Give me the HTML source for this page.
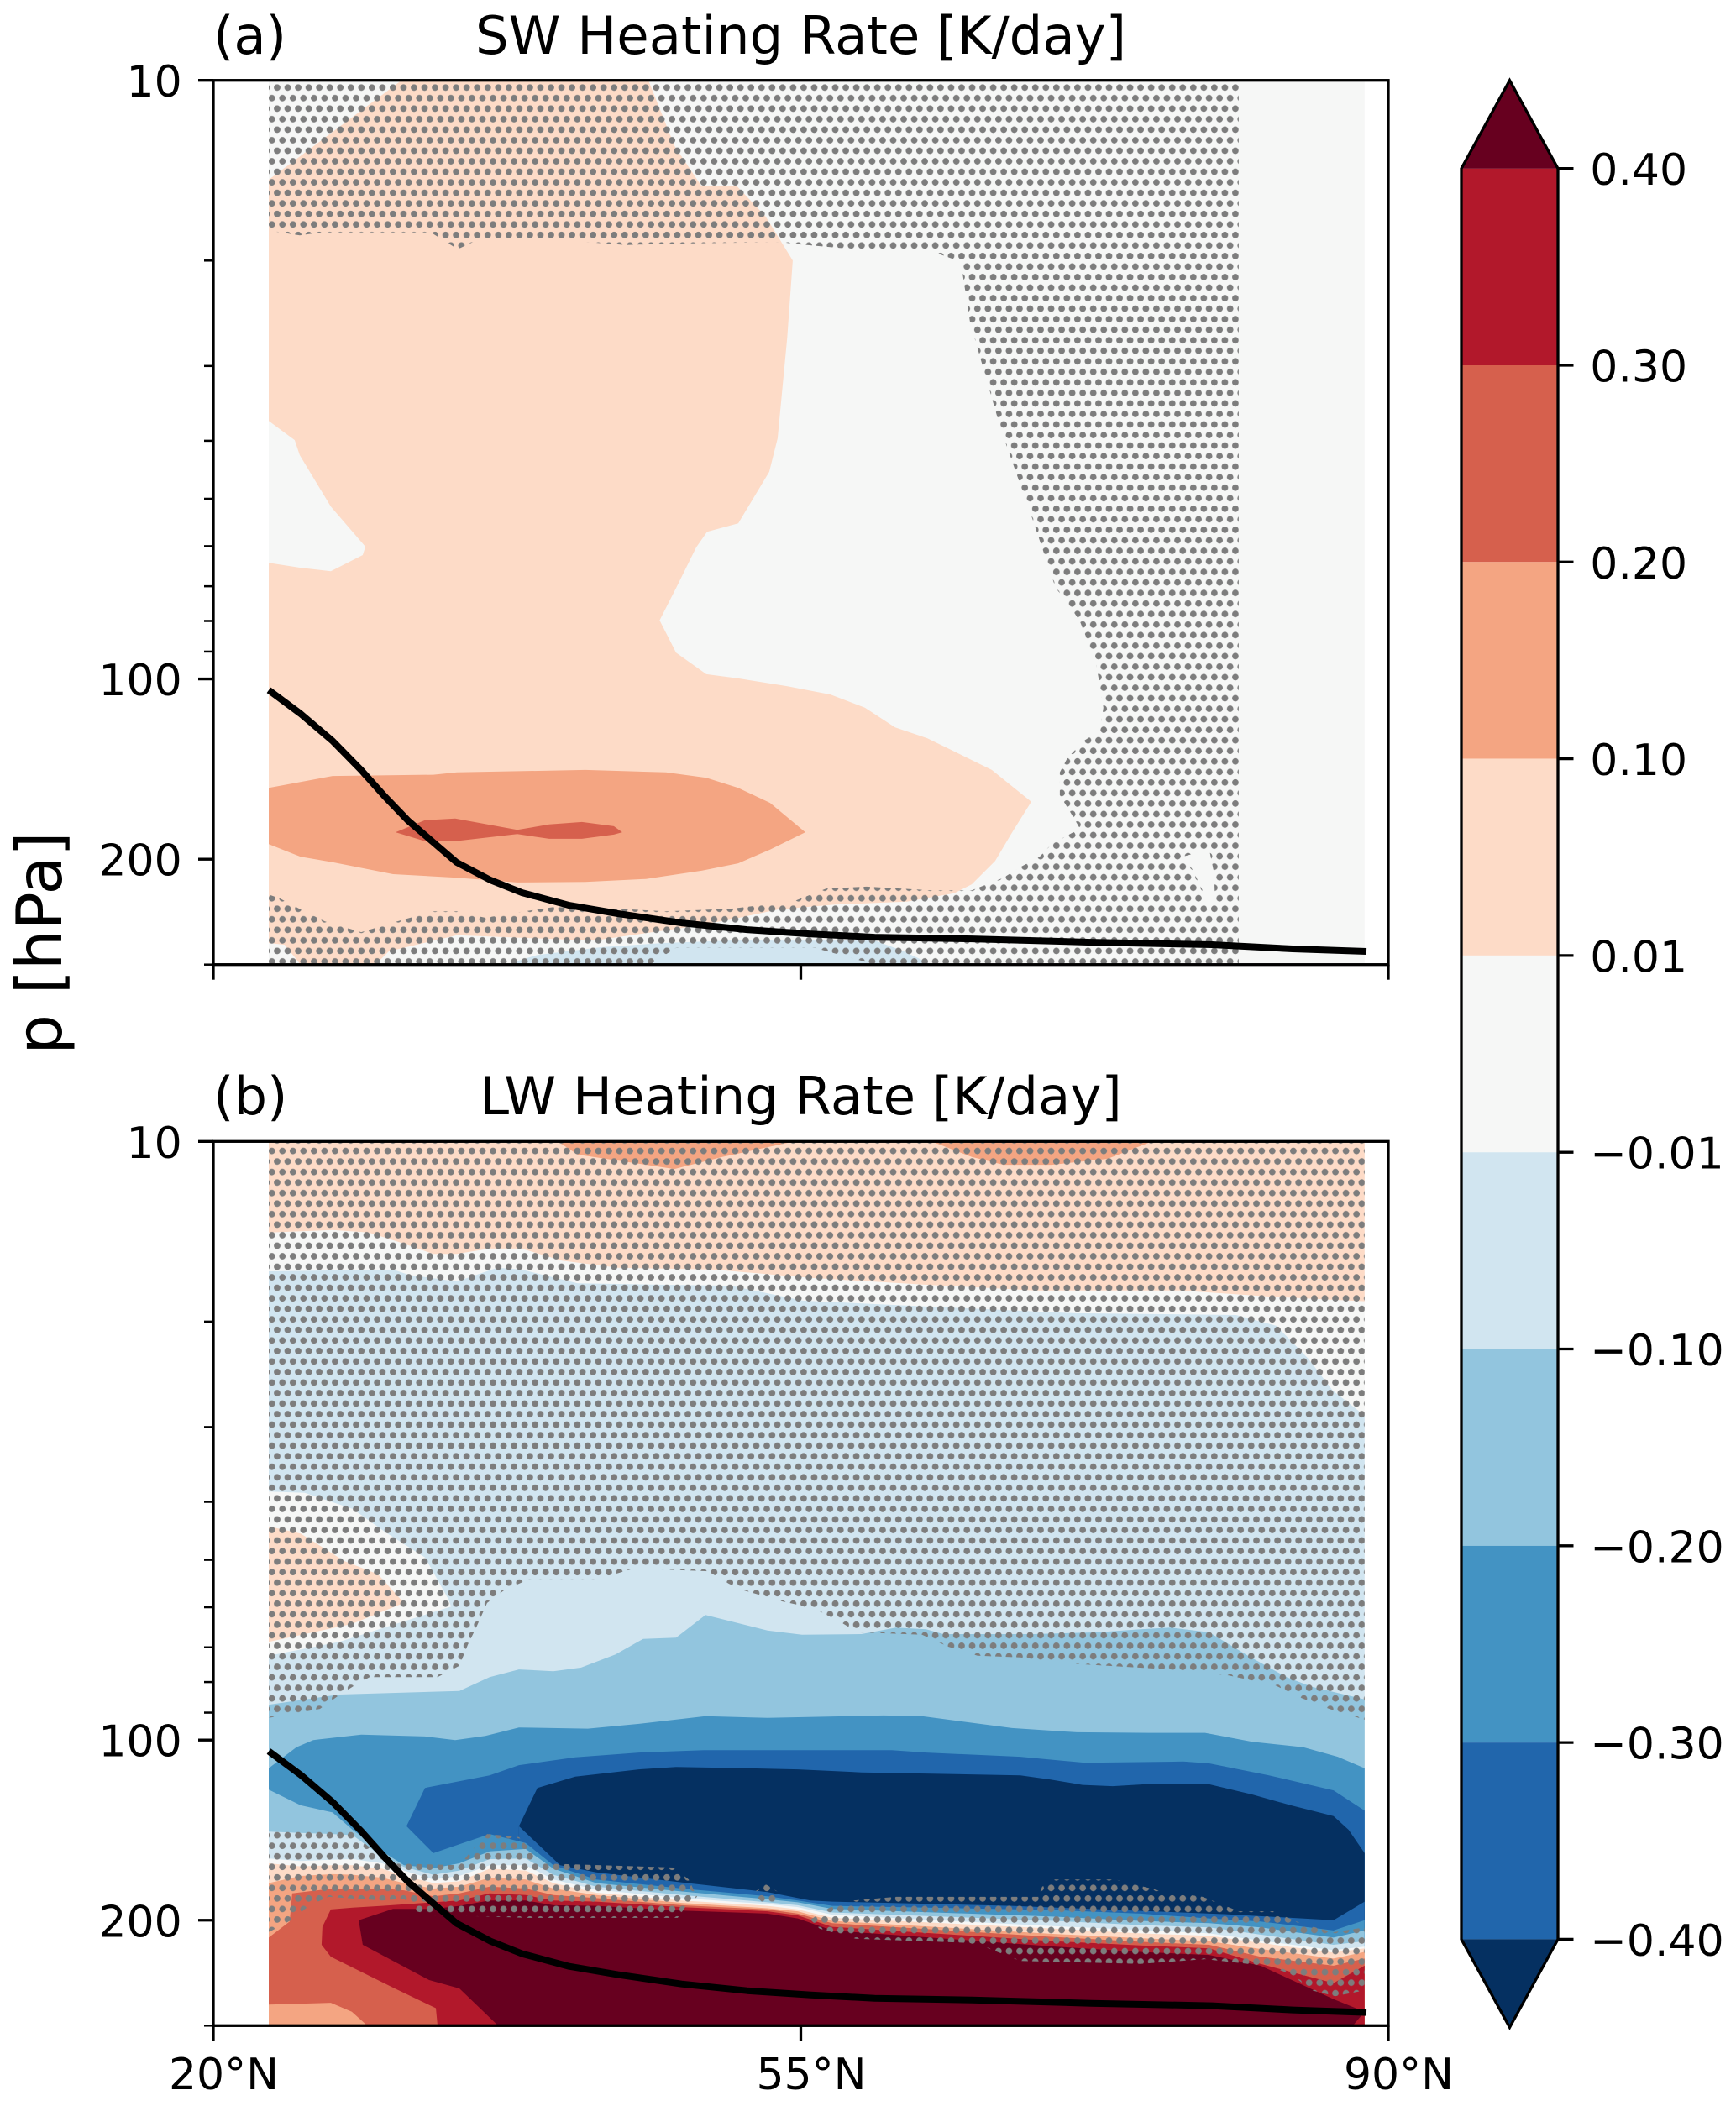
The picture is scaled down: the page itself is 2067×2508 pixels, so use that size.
<!DOCTYPE html>
<html lang="en">
<head>
<meta charset="utf-8">
<title>SW and LW Heating Rate</title>
<style>
html,body{margin:0;padding:0;background:#fff;}
svg{display:block;font-family:"DejaVu Sans","Liberation Sans",sans-serif;fill:#000;}
</style>
</head>
<body>
<svg id="figure" xmlns="http://www.w3.org/2000/svg" width="2067" height="2508" viewBox="0 0 2067 2508">
  <defs>
    <pattern id="hatch-dots" patternUnits="userSpaceOnUse" x="323.731" y="98.031" width="12.538" height="25.076">
      <circle cx="6.269" cy="6.269" r="3.9" fill="#7d7d7d"/>
      <circle cx="0" cy="18.807" r="3.9" fill="#7d7d7d"/>
      <circle cx="12.538" cy="18.807" r="3.9" fill="#7d7d7d"/>
    </pattern>
  </defs>
  <g id="panel-a"></g>
  <g id="panel-b"></g>
  <g id="colorbar"></g>
  <text x="254" y="64" font-size="62.5">(a)</text>
  <text x="953.5" y="64" font-size="62.5" text-anchor="middle">SW Heating Rate [K/day]</text>
  <text x="254" y="1327" font-size="62.5">(b)</text>
  <text x="953.5" y="1327" font-size="62.5" text-anchor="middle">LW Heating Rate [K/day]</text>
  <text x="73" y="1123" font-size="75" text-anchor="middle" transform="rotate(-90 73 1123)">p [hPa]</text>
</svg>
<script>
// ---- axis ticks ----
const latTicks = [20, 55, 90];
const latTickLabels = ['20°N', '55°N', '90°N'];
const pressureMajorTicks = [10, 100, 200];
const pressureMinorTicks = [20, 30, 40, 50, 60, 70, 80, 90, 300];

// ---- colour scale ----
const cbarLevels = [0.40, 0.30, 0.20, 0.10, 0.01, -0.01, -0.10, -0.20, -0.30, -0.40];
const cbarColors = ['#b2182b', '#d6604d', '#f4a582', '#fddbc7', '#f6f7f6', '#d1e5f0', '#92c5de', '#4393c3', '#2166ac'];
const cbarOverColor = '#67001f';
const cbarUnderColor = '#053061';

// ---- tropopause line (both panels) ----
const tropopauseLat = [23.3, 25.2, 27.1, 28.8, 30.2, 31.6, 33.1, 34.5, 36.5, 38.4, 41.2, 44.1, 47.9, 51.8, 55.6, 59.4, 65.2, 72.3, 79.5, 84.3, 88.7];
const tropopausePressure = [104.4, 114.3, 126.9, 141.9, 157, 172.4, 187.4, 202.5, 216.7, 227.5, 238.8, 246.6, 255.6, 262.3, 266.6, 270, 271.8, 275.3, 277.9, 282.4, 285.2];

// ---- data domain ----
const dataLatMin = 23.3;
const dataLatMax = 88.59;
const logPTop = 1;
const logPBottom = Math.log10(300);

// ---- SW contour bands: [latitude, log10(p)] ----
const swBand001to01 = [[31.21,1],[45.92,1],[47.49,1.11],[49.07,1.176],[51.17,1.176],[52.92,1.228],[54.52,1.301],[54.19,1.43],[53.62,1.598],[53.12,1.654],[51.27,1.74],[49.42,1.754],[48.77,1.78],[47.57,1.848],[46.59,1.902],[47.57,1.956],[49.37,1.992],[51.27,1.999],[54.17,2.012],[56.77,2.026],[58.82,2.048],[60.62,2.081],[62.53,2.099],[64.43,2.125],[66.38,2.152],[68.73,2.205],[67.53,2.259],[66.58,2.304],[65.18,2.343],[64.13,2.358],[61.32,2.372],[57.02,2.377],[53.67,2.385],[50.82,2.402],[47.92,2.416],[42.66,2.437],[34.51,2.428],[30.46,2.455],[29.66,2.477],[25.2,2.477],[24.25,2.444],[23.3,2.441],[23.3,1.806],[25.15,1.814],[27,1.82],[28.9,1.793],[29.06,1.779],[27,1.712],[25.15,1.626],[24.85,1.601],[23.3,1.569],[23.3,1.166]];
const swBand01to02 = [[23.3,2.182],[27.1,2.162],[33.11,2.16],[34.51,2.156],[42.16,2.152],[46.97,2.156],[49.37,2.165],[51.27,2.182],[53.17,2.207],[55.27,2.256],[53.17,2.285],[51.27,2.308],[49.12,2.32],[45.77,2.334],[42.16,2.339],[38.11,2.34],[34.51,2.332],[30.71,2.326],[27.1,2.306],[25.2,2.297],[23.3,2.276]];
const swBand02to03 = [[30.86,2.256],[32.61,2.236],[34.41,2.233],[38.11,2.252],[40.01,2.243],[41.96,2.239],[43.86,2.246],[44.36,2.256],[43.86,2.26],[41.96,2.267],[40.01,2.267],[38.11,2.259],[34.41,2.271],[32.61,2.271]];
const swBandNeg = [[37.41,2.477],[39.31,2.461],[43.16,2.448],[46.82,2.441],[50.82,2.437],[59.42,2.437],[61.07,2.454],[62.78,2.477]];
const swHatchOuter = [[23.3,1],[81.09,1],[81.09,2.477],[23.3,2.477],[23.3,2.36],[24,2.367],[25.2,2.385],[26.65,2.405],[28.81,2.423],[30.96,2.405],[33.11,2.388],[34.51,2.388],[36.21,2.399],[37.86,2.391],[40.26,2.381],[44.11,2.384],[46.97,2.388],[50.82,2.384],[54.62,2.371],[56.52,2.35],[58.92,2.347],[62.78,2.353],[65.18,2.353],[67.08,2.332],[68.03,2.315],[69.23,2.297],[69.93,2.276],[71.63,2.25],[71.13,2.226],[70.43,2.194],[70.43,2.156],[70.88,2.132],[71.88,2.103],[72.83,2.086],[73.03,2.048],[72.83,2.012],[72.58,1.974],[72.08,1.936],[71.63,1.904],[70.88,1.872],[70.18,1.848],[68.83,1.735],[66.93,1.584],[65.08,1.404],[64.53,1.303],[62.93,1.287],[57.32,1.28],[54.52,1.273],[53.87,1.27],[46.87,1.273],[44.61,1.275],[42.21,1.27],[36.01,1.263],[34.56,1.282],[32.96,1.254],[26.45,1.254],[25.15,1.259],[23.3,1.251]];
const swHatchSliver = [[77.73,2.297],[79.33,2.285],[79.63,2.325],[79.68,2.374],[79.23,2.388],[78.93,2.353],[78.33,2.318]];
const swHatchHole = [[46.02,2.477],[47.57,2.449],[55.82,2.449],[59.42,2.477]];

// ---- LW upper contour edges: [latitude, log10(p)] ----
const lwPeachBottom = [[23.3,1.152],[27.1,1.148],[29.26,1.152],[31.16,1.169],[33.11,1.188],[34.51,1.188],[36.46,1.179],[38.36,1.179],[40.76,1.199],[44.11,1.211],[49.82,1.214],[55.57,1.228],[62.28,1.239],[68.98,1.249],[77.58,1.249],[83.34,1.26],[88.59,1.267],[88.59,1],[23.3,1]];
const lwLobeWest = [[40.51,1],[41.71,1.022],[44.11,1.032],[47.47,1.046],[50.32,1.026],[54.62,1]];
const lwLobeEast = [[62.78,1],[65.18,1.026],[67.08,1.039],[69.93,1.039],[73.28,1.029],[75.93,1]];
const lwNeg01Top = [[23.3,1.217],[30.71,1.214],[31.66,1.223],[34.51,1.234],[36.91,1.211],[38.36,1.214],[41.71,1.237],[50.82,1.241],[55.12,1.266],[62.78,1.276],[71.38,1.287],[80.94,1.29],[83.34,1.308],[85.24,1.363],[86.69,1.416],[88.59,1.458]];
const lwWhitePocket = [[23.3,1.585],[25.45,1.587],[28.31,1.614],[30.21,1.652],[32.61,1.695],[34.01,1.765],[34.16,1.777],[27.5,1.836],[23.3,1.859]];
const lwPeachPocket = [[23.3,1.643],[25.2,1.655],[27.8,1.701],[29.81,1.723],[31.36,1.771],[28.26,1.806],[23.3,1.836]];
const lwNeg02Top = [[23.3,1.941],[27.5,1.924],[34.66,1.918],[36.46,1.895],[38.21,1.882],[40.26,1.885],[41.91,1.879],[43.96,1.857],[45.61,1.831],[47.57,1.829],[49.32,1.791],[53.02,1.817],[55.07,1.824],[58.62,1.823],[60.67,1.812],[62.47,1.815],[63.48,1.823],[68.88,1.823],[72.68,1.82],[75.23,1.815],[77.03,1.812],[79.33,1.82],[81.64,1.859],[83.94,1.895],[85.44,1.911],[88.59,1.932]];
const lwNeg03Top = [[23.3,2.047],[24.95,2.012],[25.95,2],[28.81,1.991],[32.61,1.994],[34.41,2],[36.21,1.993],[38.21,1.979],[42.31,1.981],[45.36,1.973],[49.32,1.96],[53.02,1.963],[59.92,1.959],[62.22,1.96],[67.58,1.98],[71.43,1.987],[75.73,1.988],[79.08,1.988],[81.89,2.003],[84.94,2.012],[86.99,2.028],[88.59,2.047]];
const lwNeg04Top = [[31.51,2.144],[32.61,2.08],[36.46,2.059],[38.21,2.042],[41.56,2.029],[45.36,2.021],[49.22,2.017],[54.82,2.017],[60.42,2.017],[62.47,2.021],[68.08,2.028],[71.93,2.038],[77.78,2.036],[79.33,2.039],[82.89,2.059],[86.74,2.084],[88.59,2.118]];
const lwNavyTop = [[38.21,2.144],[39.31,2.08],[41.56,2.061],[45.36,2.049],[47.57,2.045],[51.77,2.047],[54.82,2.049],[58.62,2.054],[68.08,2.059],[69.88,2.066],[71.78,2.075],[73.58,2.077],[75.48,2.074],[79.33,2.074],[81.89,2.091],[84.19,2.109],[86.74,2.127],[87.64,2.15],[88.59,2.189]];
const lwNavyBottom = [[38.21,2.144],[40.66,2.209],[42.81,2.221],[47.92,2.238],[53.02,2.254],[55.57,2.268],[56.87,2.27],[67.58,2.277],[80.34,2.291],[86.74,2.301],[88.59,2.27]];

// ---- LW sharp transition: edge log10(p) per latitude column ----
const lwEdgeLat = [23.3,25.2,27.1,28.3,30.06,31.36,33.11,34.66,36.46,38.61,40.26,42.81,47.92,53.02,54.82,56.87,70.13,75.23,79.33,82.39,86.74,88.59];
const lwEdge03Lat = [31.51,33.11,34.66,36.46,38.61,40.26,42.81,47.92,53.02,54.82,56.87,70.13,75.23,79.33,82.39,86.74,88.59];
const lwEdge03 = [2.144,2.189,2.174,2.157,2.172,2.209,2.233,2.248,2.261,2.268,2.277,2.284,2.29,2.298,2.303,2.318,2.301];
const lwEdge02 = [2.083,2.109,2.121,2.15,2.186,2.209,2.214,2.206,2.186,2.182,2.215,2.239,2.253,2.266,2.271,2.282,2.295,2.302,2.306,2.313,2.33,2.318];
const lwEdge01 = [2.153,2.155,2.157,2.159,2.195,2.212,2.225,2.218,2.199,2.198,2.225,2.245,2.259,2.271,2.276,2.288,2.302,2.309,2.313,2.325,2.342,2.336];
const lwEdgeNeg001 = [2.198,2.202,2.2,2.199,2.206,2.218,2.233,2.227,2.209,2.209,2.233,2.25,2.264,2.274,2.279,2.292,2.311,2.317,2.323,2.335,2.351,2.345];
const lwEdgePos001 = [2.206,2.211,2.209,2.209,2.215,2.227,2.239,2.236,2.215,2.218,2.239,2.255,2.268,2.277,2.283,2.297,2.315,2.323,2.327,2.339,2.355,2.348];
const lwEdgePos01 = [2.239,2.227,2.224,2.225,2.23,2.239,2.248,2.245,2.23,2.233,2.248,2.259,2.272,2.281,2.286,2.302,2.324,2.331,2.336,2.349,2.365,2.354];
const lwEdgePos02Lat = [23.3,24.55,24.7,27.1,28.3,30.06,31.36,33.11,34.66,36.46,38.61,40.26,42.81,47.92,53.02,54.82,56.87,70.13,75.23,79.33,82.39,86.74,88.59];
const lwEdgePos02 = [2.33,2.303,2.256,2.248,2.248,2.248,2.251,2.261,2.256,2.245,2.248,2.259,2.264,2.276,2.283,2.29,2.306,2.329,2.337,2.342,2.362,2.377,2.365];
const lwCornerPocket = [[23.3,2.442],[27,2.439],[28.25,2.454],[29.05,2.474],[29.1,2.477],[23.3,2.477]];
const lwBand03to04 = [[27,2.283],[28.3,2.28],[30.06,2.277],[33.11,2.271],[34.66,2.268],[36.46,2.256],[38.61,2.259],[40.26,2.268],[42.81,2.27],[47.92,2.279],[53.02,2.286],[54.82,2.293],[56.87,2.312],[70.13,2.336],[75.23,2.343],[79.33,2.348],[82.39,2.374],[86.74,2.406],[88.59,2.377],[88.59,2.477],[33.36,2.477],[33.26,2.448],[30.81,2.415],[27,2.362],[26.45,2.342],[26.5,2.312]];
const lwBandOver04 = [[28.66,2.301],[30.71,2.282],[33.11,2.282],[34.66,2.277],[36.46,2.268],[38.61,2.268],[40.26,2.276],[42.81,2.277],[47.92,2.285],[53.02,2.29],[54.82,2.298],[56.87,2.318],[70.13,2.345],[75.23,2.354],[79.33,2.359],[82.39,2.377],[86.74,2.433],[88.59,2.454],[87.89,2.477],[36.96,2.477],[34.66,2.415],[32.86,2.401],[28.9,2.342]];

// ---- LW significance hatching ----
const lwHatchUpper = [[23.3,1],[88.59,1],[88.59,1.966],[86.49,1.948],[84.84,1.93],[83.29,1.909],[80.49,1.892],[77.03,1.882],[71.43,1.873],[68.08,1.862],[65.53,1.859],[63.78,1.844],[62.22,1.824],[58.37,1.82],[57.37,1.803],[56.12,1.785],[54.82,1.774],[53.82,1.768],[51.62,1.75],[50.72,1.739],[49.47,1.718],[46.67,1.715],[45.87,1.707],[44.86,1.715],[42.81,1.732],[38.76,1.732],[37.31,1.75],[36.31,1.771],[35.66,1.812],[35.16,1.841],[34.66,1.876],[33.36,1.895],[29.31,1.895],[28.41,1.909],[27.4,1.927],[26.35,1.948],[23.3,1.963]];
const lwHatchLowerWest = [[23.3,2.153],[28.25,2.153],[29.16,2.176],[30.56,2.206],[34.66,2.209],[35.66,2.176],[36.31,2.157],[38.21,2.162],[38.76,2.179],[39.51,2.206],[47.42,2.213],[48.32,2.233],[48.82,2.262],[48.17,2.277],[47.67,2.297],[38.76,2.297],[35.16,2.294],[33.11,2.294],[32.11,2.286],[31.36,2.265],[30.06,2.268],[26.85,2.262],[25.7,2.277],[24.7,2.3],[23.3,2.321]];
const lwHatchIsland = [[52.12,2.256],[52.92,2.241],[53.67,2.254],[53.42,2.27],[52.67,2.27]];
const lwHatchLowerEast = [[55.57,2.3],[56.72,2.28],[58.12,2.268],[60.67,2.262],[69.13,2.262],[69.38,2.245],[70.13,2.233],[73.73,2.233],[76.28,2.251],[78.93,2.262],[79.68,2.27],[81.09,2.286],[83.14,2.286],[84.84,2.307],[86.74,2.321],[88.59,2.313],[88.59,2.418],[86.84,2.428],[85.44,2.418],[84.19,2.391],[83.39,2.383],[81.64,2.374],[79.09,2.366],[75.23,2.374],[68.08,2.369],[66.18,2.348],[65.03,2.339],[58.27,2.332],[56.12,2.315]];

// ---- axis functions ----
const plotLeft = 254;
const plotWidth = 1399;
const panelHeight = 1053;
const panelATop = 95.7;
const panelBTop = 1359.3;
const decadeHeight = panelHeight / (logPBottom - logPTop);
const latMin = 20;
const latMax = 90;
function xScale(lat) { return plotLeft + (lat - latMin) / (latMax - latMin) * plotWidth; }
function yScaleLog(logP, top) { return top + (logP - logPTop) * decadeHeight; }
function yScale(p, top) { return yScaleLog(Math.log10(p), top); }

const SVG_NS = 'http://www.w3.org/2000/svg';
function make(tag, parent) {
  const el = document.createElementNS(SVG_NS, tag);
  parent.appendChild(el);
  return el;
}
function pointString(points, top) {
  return points.map(function (pt) {
    return xScale(pt[0]).toFixed(1) + ',' + yScaleLog(pt[1], top).toFixed(1);
  }).join(' ');
}
function toBottom(points) {
  const first = points[0];
  const last = points[points.length - 1];
  return points.concat([[last[0], logPBottom], [first[0], logPBottom]]);
}
function zip(lats, logs) {
  return lats.map(function (lat, i) { return [lat, logs[i]]; });
}
function drawBand(parent, points, color, top) {
  const el = make('polygon', parent);
  el.setAttribute('points', pointString(points, top));
  el.setAttribute('fill', color);
  
  
  return el;
}
function drawHatch(parent, rings, top) {
  const el = make('path', parent);
  const d = rings.map(function (ring) {
    return 'M' + pointString(ring, top).split(' ').join(' L') + ' Z';
  }).join(' ');
  el.setAttribute('d', d);
  el.setAttribute('fill', 'url(#hatch-dots)');
  el.setAttribute('fill-rule', 'evenodd');
  
  
  return el;
}
function drawTropopause(parent, top) {
  const el = make('polyline', parent);
  const pts = tropopauseLat.map(function (lat, i) {
    return xScale(lat).toFixed(1) + ',' + yScale(tropopausePressure[i], top).toFixed(1);
  }).join(' ');
  el.setAttribute('points', pts);
  el.setAttribute('fill', 'none');
  el.setAttribute('stroke', '#000');
  el.setAttribute('stroke-width', '8');
  el.setAttribute('stroke-linejoin', 'round');
  
  
}
function drawLine(parent, x1, y1, x2, y2, w) {
  const el = make('line', parent);
  el.setAttribute('x1', x1);
  el.setAttribute('y1', y1);
  el.setAttribute('x2', x2);
  el.setAttribute('y2', y2);
  el.setAttribute('stroke', '#000');
  el.setAttribute('stroke-width', w);
  return el;
}
function drawAxes(parent, top, showLatLabels) {
  const bottom = top + panelHeight;
  pressureMajorTicks.forEach(function (p) {
    const y = yScale(p, top);
    const tick = drawLine(parent, plotLeft - 18, y, plotLeft, y, 3.3);
    
    
    const label = make('text', parent);
    label.setAttribute('x', plotLeft - 37.3);
    label.setAttribute('y', y + 19.5);
    label.setAttribute('font-size', '52');
    label.setAttribute('text-anchor', 'end');
    label.textContent = String(p);
    
    
  });
  pressureMinorTicks.forEach(function (p) {
    const y = yScale(p, top);
    const tick = drawLine(parent, plotLeft - 11, y, plotLeft, y, 2.5);
    
    
  });
  latTicks.forEach(function (lat, i) {
    const x = xScale(lat);
    const tick = drawLine(parent, x, bottom, x, bottom + 18, 3.3);
    
    
    if (showLatLabels) {
      const label = make('text', parent);
      label.setAttribute('x', x + 12.5);
      label.setAttribute('y', bottom + 75.7);
      label.setAttribute('font-size', '52');
      label.setAttribute('text-anchor', 'middle');
      label.textContent = latTickLabels[i];
      
      
    }
  });
  const frame = make('rect', parent);
  frame.setAttribute('x', plotLeft);
  frame.setAttribute('y', top);
  frame.setAttribute('width', plotWidth);
  frame.setAttribute('height', panelHeight);
  frame.setAttribute('fill', 'none');
  frame.setAttribute('stroke', '#000');
  frame.setAttribute('stroke-width', '3.3');
  
  
}
function drawBackground(parent, top) {
  const corners = [[dataLatMin, logPTop], [dataLatMax, logPTop], [dataLatMax, logPBottom], [dataLatMin, logPBottom]];
  return drawBand(parent, corners, cbarColors[4], top);
}

// ---- panel (a) ----
const panelA = document.getElementById('panel-a');
drawBackground(panelA, panelATop);
drawBand(panelA, swBand001to01, cbarColors[3], panelATop);
drawBand(panelA, swBand01to02, cbarColors[2], panelATop);
drawBand(panelA, swBand02to03, cbarColors[1], panelATop);
drawBand(panelA, swBandNeg, cbarColors[5], panelATop);
drawHatch(panelA, [swHatchOuter, swHatchSliver, swHatchHole], panelATop);
drawTropopause(panelA, panelATop);
drawAxes(panelA, panelATop, false);

// ---- panel (b) ----
const panelB = document.getElementById('panel-b');
drawBackground(panelB, panelBTop);
drawBand(panelB, lwPeachBottom, cbarColors[3], panelBTop);
drawBand(panelB, lwLobeWest, cbarColors[2], panelBTop);
drawBand(panelB, lwLobeEast, cbarColors[2], panelBTop);
drawBand(panelB, toBottom(lwNeg01Top), cbarColors[5], panelBTop);
drawBand(panelB, lwWhitePocket, cbarColors[4], panelBTop);
drawBand(panelB, lwPeachPocket, cbarColors[3], panelBTop);
drawBand(panelB, toBottom(lwNeg02Top), cbarColors[6], panelBTop);
drawBand(panelB, toBottom(lwNeg03Top), cbarColors[7], panelBTop);
drawBand(panelB, toBottom(lwNeg04Top), cbarColors[8], panelBTop);
drawBand(panelB, toBottom(lwNavyTop), cbarUnderColor, panelBTop);
drawBand(panelB, toBottom(lwNavyBottom), cbarColors[8], panelBTop);
drawBand(panelB, toBottom(zip(lwEdge03Lat, lwEdge03)), cbarColors[7], panelBTop);
drawBand(panelB, toBottom(zip(lwEdgeLat, lwEdge02)), cbarColors[6], panelBTop);
drawBand(panelB, toBottom(zip(lwEdgeLat, lwEdge01)), cbarColors[5], panelBTop);
drawBand(panelB, toBottom(zip(lwEdgeLat, lwEdgeNeg001)), cbarColors[4], panelBTop);
drawBand(panelB, toBottom(zip(lwEdgeLat, lwEdgePos001)), cbarColors[3], panelBTop);
drawBand(panelB, toBottom(zip(lwEdgeLat, lwEdgePos01)), cbarColors[2], panelBTop);
drawBand(panelB, toBottom(zip(lwEdgePos02Lat, lwEdgePos02)), cbarColors[1], panelBTop);
drawBand(panelB, lwCornerPocket, cbarColors[2], panelBTop);
drawBand(panelB, lwBand03to04, cbarColors[0], panelBTop);
drawBand(panelB, lwBandOver04, cbarOverColor, panelBTop);
drawHatch(panelB, [lwHatchUpper, lwHatchLowerWest, lwHatchIsland, lwHatchLowerEast], panelBTop);
drawTropopause(panelB, panelBTop);
drawAxes(panelB, panelBTop, true);

// ---- colorbar ----
const cbarGroup = document.getElementById('colorbar');
const cbarLeft = 1740;
const cbarRight = 1855;
const cbarTop = 200.7;
const cbarStep = 234.3;
const cbarTipHeight = 105;
function cbarY(index) { return cbarTop + index * cbarStep; }
cbarColors.forEach(function (color, i) {
  const seg = make('rect', cbarGroup);
  seg.setAttribute('x', cbarLeft);
  seg.setAttribute('y', cbarY(i));
  seg.setAttribute('width', cbarRight - cbarLeft);
  seg.setAttribute('height', cbarStep);
  seg.setAttribute('fill', color);
  
  
});
const cbarMid = (cbarLeft + cbarRight) / 2;
const cbarBottom = cbarY(cbarLevels.length - 1);
const overTip = make('polygon', cbarGroup);
overTip.setAttribute('points', cbarLeft + ',' + cbarTop + ' ' + cbarMid + ',' + (cbarTop - cbarTipHeight) + ' ' + cbarRight + ',' + cbarTop);
overTip.setAttribute('fill', cbarOverColor);


const underTip = make('polygon', cbarGroup);
underTip.setAttribute('points', cbarLeft + ',' + cbarBottom + ' ' + cbarMid + ',' + (cbarBottom + cbarTipHeight) + ' ' + cbarRight + ',' + cbarBottom);
underTip.setAttribute('fill', cbarUnderColor);


const cbarOutline = make('polygon', cbarGroup);
cbarOutline.setAttribute('points', [
  cbarLeft + ',' + cbarTop,
  cbarMid + ',' + (cbarTop - cbarTipHeight),
  cbarRight + ',' + cbarTop,
  cbarRight + ',' + cbarBottom,
  cbarMid + ',' + (cbarBottom + cbarTipHeight),
  cbarLeft + ',' + cbarBottom
].join(' '));
cbarOutline.setAttribute('fill', 'none');
cbarOutline.setAttribute('stroke', '#000');
cbarOutline.setAttribute('stroke-width', '3.3');


cbarLevels.forEach(function (level, i) {
  const y = cbarY(i);
  const tick = drawLine(cbarGroup, cbarRight, y, cbarRight + 18.5, y, 3.3);
  
  
  const label = make('text', cbarGroup);
  label.setAttribute('x', 1893.3);
  label.setAttribute('y', y + 19.5);
  label.setAttribute('font-size', '52');
  label.textContent = level.toFixed(2).replace('-', '\u2212');
  
  
});
</script>
</body>
</html>
